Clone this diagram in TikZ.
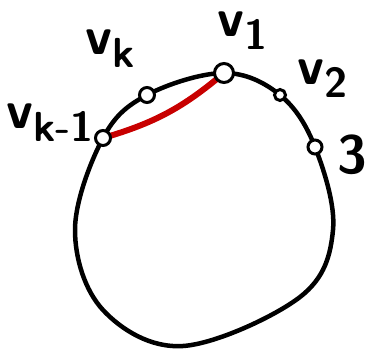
\documentclass[tikz,border=0pt]{standalone}
\usepackage{tikz}
\usetikzlibrary{positioning}
\definecolor{chordred}{RGB}{200,0,0}
\newcommand{\vlab}[1]{v\raisebox{-13pt}{\fontsize{42}{42}\selectfont #1}}

\begin{document}
\begin{tikzpicture}[x=1pt, y=-1pt, line width=4.5pt,
  every node/.style={font=\fontsize{54}{54}\selectfont\sffamily\bfseries},
  vert/.style={draw, circle, fill=white, line width=3pt, inner sep=0pt, minimum size=15pt},
  lbl/.style={anchor=base west, inner sep=0pt, text height=26pt}]
  \useasboundingbox (0,0) rectangle (374,351);
  % vertices on the cycle
  \coordinate (v1) at (224,73);
  \coordinate (v2) at (280,95);
  \coordinate (v3) at (315,147);
  \coordinate (vk) at (147,95);
  \coordinate (vkm) at (103,138);
  \draw[line join=round] plot[smooth cycle, tension=0.6] coordinates {(v1) (v2) (v3) (333,230) (300,297) (183,346) (103,310) (75,230) (vkm) (vk)};
  % chord
  \draw[chordred, line width=6pt] (vkm) to[bend right=12] (v1);
  \node[vert, minimum width=19pt, minimum height=15pt] (n1) at (v1) {};
  \node[vert, minimum size=11pt] (n2) at (v2) {};
  \node[vert, minimum size=14pt] (n3) at (v3) {};
  \node[vert] (nk) at (vk) {};
  \node[vert] (nkm) at (vkm) {};
  % labels
  \node[lbl] (l1) at (215,36) {\vlab{1}};
  \node[lbl] (l2) at (295,84) {\vlab{2}};
  \node[lbl] (l3) at (335,173) {3};
  \node[lbl] (lk) at (83,54) {\vlab{k}};
  \node[lbl] (lkm) at (4,128) {\vlab{k-1}};
\end{tikzpicture}
\end{document}
